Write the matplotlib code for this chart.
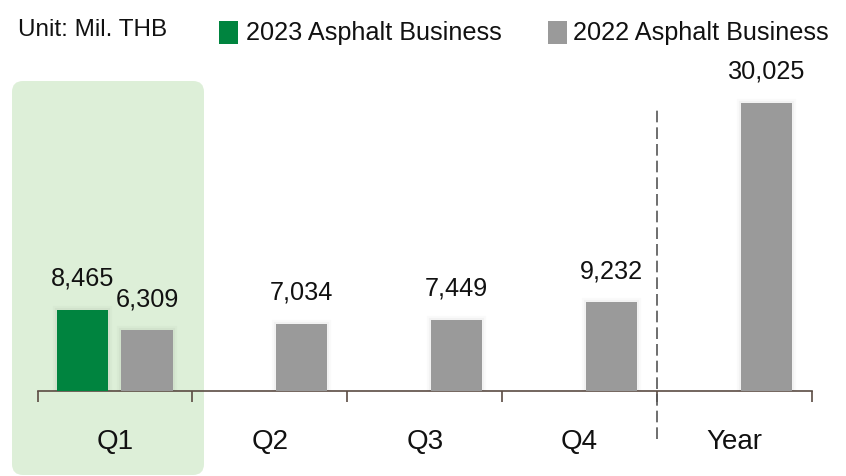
import matplotlib
matplotlib.use("Agg")
import matplotlib.pyplot as plt
from matplotlib.patches import FancyBboxPatch, Rectangle
from matplotlib.transforms import IdentityTransform
import matplotlib.patheffects as pe
import numpy as np

categories = ["Q1", "Q2", "Q3", "Q4", "Year"]
values_2023 = [8465, None, None, None, None]
values_2022 = [6309, 7034, 7449, 9232, 30025]
series_names = ["2023 Asphalt Business", "2022 Asphalt Business"]
unit_label = "Unit: Mil. THB"

GREEN = "#00843F"
GRAY = "#9A9A9A"
SHADE = "#DDEFD8"
AXIS = "#5B4B43"
FONT = "Liberation Sans"

plt.rcParams["font.family"] = [FONT, "DejaVu Sans"]

fig = plt.figure(figsize=(8.46, 4.76), dpi=100)
fig.patch.set_facecolor("white")

# shaded highlight behind Q1
shade = FancyBboxPatch((12 + 11, 1 + 11), 192 - 22, 394 - 22,
                       boxstyle="round,pad=11,rounding_size=11",
                       transform=IdentityTransform(), facecolor=SHADE,
                       edgecolor="none", zorder=-5)
fig.patches.append(shade)

ax = fig.add_axes([37.5 / 846, (476 - 391) / 476, 774.5 / 846, (391 - 80) / 476])
ax.set_facecolor("none")
ax.set_xlim(-0.5, 4.5)
ax.set_ylim(0, 30025 * (391 - 80) / 288)

x = np.arange(len(categories))
w = 0.33
off = 0.207
shadow = [pe.withStroke(linewidth=6, foreground=(0, 0, 0, 0.02)),
          pe.withStroke(linewidth=3, foreground=(0, 0, 0, 0.03)),
          pe.Normal()]

LABEL_FS = 18.2
for i, v in enumerate(values_2023):
    if v is None:
        continue
    b = ax.bar(x[i] - off, v, width=w, color=GREEN, zorder=3)
    for r in b:
        r.set_path_effects(shadow)
    ax.annotate(f"{v:,}", (x[i] - off, v), xytext=(0, 14), textcoords="offset points",
                ha="center", va="bottom", fontsize=LABEL_FS, color="#111111")

bars = ax.bar(x + off, values_2022, width=w, color=GRAY, zorder=3)
for r in bars:
    r.set_path_effects(shadow)
for i, v in enumerate(values_2022):
    ax.annotate(f"{v:,}", (x[i] + off, v), xytext=(0, 14), textcoords="offset points",
                ha="center", va="bottom", fontsize=LABEL_FS, color="#111111")

for s in ["top", "right", "left"]:
    ax.spines[s].set_visible(False)
ax.spines["bottom"].set_color(AXIS)
ax.spines["bottom"].set_linewidth(1.2)
ax.set_yticks([])
ax.set_xticks(np.arange(-0.5, 4.6, 1.0))
ax.set_xticklabels([])
ax.tick_params(axis="x", length=8, width=1.2, color=AXIS, direction="out")
for i, c in enumerate(categories):
    ax.text(x[i], -0.163, c, transform=ax.get_xaxis_transform(), ha="center",
            va="center", fontsize=20, color="#111111")

# dashed separator between Q4 and Year
ax.plot([3.5, 3.5], [-0.155, 1 - (108 - 80) / 311], transform=ax.get_xaxis_transform(),
        color="#555555", linewidth=1.2, linestyle=(0, (7, 3)), clip_on=False, zorder=2)

# header: unit and legend
fig.text(18 / 846, 1 - 30 / 476, unit_label, ha="left", va="center", fontsize=17.5, color="#111111")
fig.patches.append(Rectangle((219 / 846, 1 - 44 / 476), 19 / 846, 23 / 476,
                             transform=fig.transFigure, facecolor=GREEN, edgecolor="none"))
fig.text(246 / 846, 1 - 33 / 476, series_names[0], ha="left", va="center", fontsize=18.2, color="#111111")
fig.patches.append(Rectangle((548 / 846, 1 - 44 / 476), 19 / 846, 23 / 476,
                             transform=fig.transFigure, facecolor=GRAY, edgecolor="none"))
fig.text(573 / 846, 1 - 33 / 476, series_names[1], ha="left", va="center", fontsize=18.2, color="#111111")

fig.savefig("out.png", dpi=100)
